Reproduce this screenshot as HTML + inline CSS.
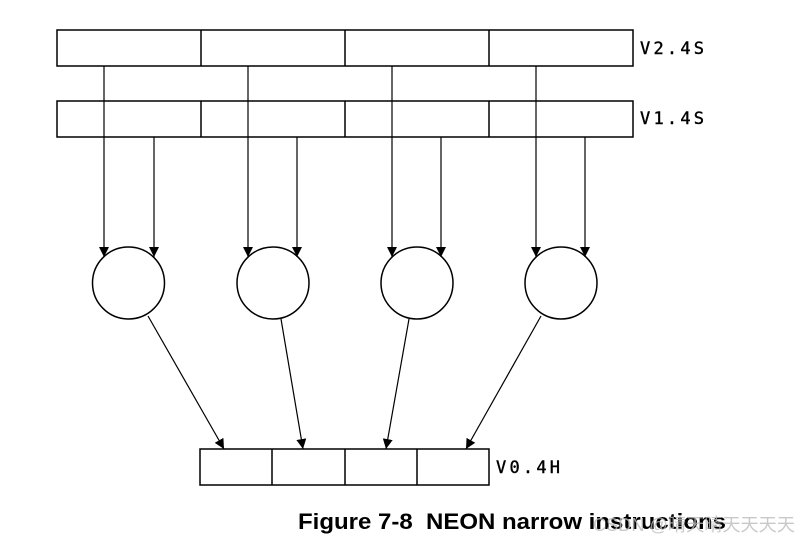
<!DOCTYPE html>
<html><head><meta charset="utf-8"><style>
html,body{margin:0;padding:0;background:#fff;}
body{width:810px;height:544px;overflow:hidden;position:relative;}
svg{position:absolute;left:0;top:0;}
</style></head><body>
<svg width="810" height="544" viewBox="0 0 810 544" xmlns="http://www.w3.org/2000/svg">
<defs>
<marker id="a" viewBox="0 0 10 10" refX="10" refY="5" markerWidth="10" markerHeight="10" markerUnits="userSpaceOnUse" orient="auto">
<path d="M0,0 L10,5 L0,10 z" fill="#000"/></marker>
</defs>
<g fill="none" stroke="#000" stroke-width="1.5">
<rect x="57" y="30" width="576" height="36"/>
<line x1="201" y1="30" x2="201" y2="66"/><line x1="345" y1="30" x2="345" y2="66"/><line x1="489" y1="30" x2="489" y2="66"/>
<rect x="57" y="101" width="576" height="36"/>
<line x1="201" y1="101" x2="201" y2="137"/><line x1="345" y1="101" x2="345" y2="137"/><line x1="489" y1="101" x2="489" y2="137"/>
<rect x="200" y="449" width="289" height="36"/>
<line x1="272" y1="449" x2="272" y2="485"/><line x1="345" y1="449" x2="345" y2="485"/><line x1="417" y1="449" x2="417" y2="485"/>
<circle cx="128.5" cy="283" r="36"/><circle cx="273" cy="283" r="36"/><circle cx="417" cy="283" r="36"/><circle cx="561" cy="283" r="36"/>
</g>
<g stroke="#000" stroke-width="1.2" marker-end="url(#a)">
<line x1="104" y1="66" x2="104" y2="257"/><line x1="154" y1="137" x2="154" y2="257"/>
<line x1="248" y1="66" x2="248" y2="257"/><line x1="297" y1="137" x2="297" y2="257"/>
<line x1="392" y1="66" x2="392" y2="257"/><line x1="441" y1="137" x2="441" y2="257"/>
<line x1="536" y1="66" x2="536" y2="257"/><line x1="585" y1="137" x2="585" y2="257"/>
<line x1="148" y1="316" x2="224" y2="449"/>
<line x1="281" y1="319" x2="303" y2="449"/>
<line x1="409" y1="319" x2="386" y2="449"/>
<line x1="541" y1="316" x2="466" y2="449"/>
</g>
<g font-family="'DejaVu Sans Mono','Liberation Mono',monospace" font-size="17" fill="#000" stroke="#000" stroke-width="0.4">
<text x="640" y="54" textLength="64">V2.4S</text>
<text x="640" y="124" textLength="64">V1.4S</text>
<text x="496" y="473" textLength="64">V0.4H</text>
</g>
<text x="298" y="529" font-family="'Liberation Sans',Arial,sans-serif" font-weight="bold" font-size="22" fill="#000" textLength="428" lengthAdjust="spacingAndGlyphs" xml:space="preserve">Figure 7-8  NEON narrow instructions</text>
<text x="593" y="531" font-family="'Liberation Sans','Noto Sans CJK SC',sans-serif" font-size="18" fill="#bbb" fill-opacity="0.8" textLength="202" lengthAdjust="spacingAndGlyphs">CSDN @晴天晴天天天天</text>
</svg>
</body></html>
